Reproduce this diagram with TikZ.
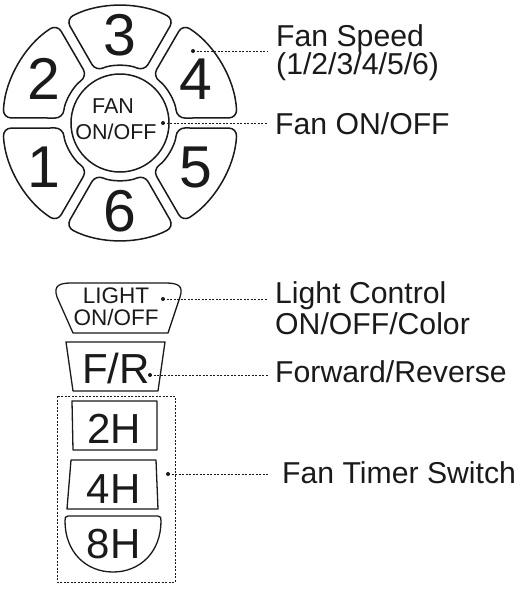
\documentclass[tikz,border=0pt]{standalone}
\usepackage{fontspec}
\setmainfont{Liberation Sans}
\definecolor{ink}{HTML}{1A1A1A}
\newcommand\fanseg[1]{\draw[segsty] ({#1-27.5}:117) arc[start angle={#1-27.5}, end angle={#1+27.5}, radius=117] -- ({#1+25}:57) arc[start angle={#1+25}, end angle={#1-25}, radius=57] -- cycle;}
\begin{document}
\begin{tikzpicture}[x=1pt,y=-1pt,
  segsty/.style={draw=ink, line width=1.5pt, rounded corners=8pt},
  btn/.style={draw=ink, line width=1.3pt, line join=round},
  leader/.style={draw=ink, line width=0.7pt, dash pattern=on 2pt off 1.5pt},
  dotn/.style={circle, fill=ink, inner sep=0pt, minimum size=4pt},
  digit/.style={font=\fontsize{59}{59}\selectfont, text=ink, inner sep=0pt},
  btxt/.style={font=\fontsize{42}{42}\selectfont, text=ink, inner sep=0pt, anchor=base},
  stxt/.style={font=\fontsize{22.5}{22.5}\selectfont, text=ink, inner sep=0pt, anchor=base},
  ctxt/.style={font=\fontsize{21.5}{21.5}\selectfont, text=ink, inner sep=0pt, anchor=base},
  lbl/.style={font=\fontsize{30.2}{30.2}\selectfont, text=ink, inner sep=0pt, anchor=base west}
]
\path[use as bounding box, fill=white] (0,0) rectangle (522,592);

% fan speed wheel
\begin{scope}[shift={(120,123)}]
  \fanseg{-90}
  \fanseg{-30}
  \fanseg{30}
  \fanseg{90}
  \fanseg{150}
  \fanseg{-150}
  \node[digit] (n3) at (-90:88) {3};
  \node[digit] (n4) at (-30:88) {4};
  \node[digit] (n5) at (30:88) {5};
  \node[digit] (n6) at (90:88) {6};
  \node[digit] (n1) at (150:88) {1};
  \node[digit] (n2) at (-150:88) {2};
  \draw[draw=ink, line width=1.5pt] (0,0) circle[radius=49];
\end{scope}
\node[ctxt] (fan1) at (113,113) {FAN};
\node[ctxt] (fan2) at (116,139) {ON/OFF};

% lower buttons
\draw[btn] (73,333) -- (57,297) .. controls (53,285) and (60,283) .. (72,283) -- (165,283) .. controls (177,283) and (184,285) .. (180,297) -- (168,333) -- cycle;
\node[stxt] (light1) at (116,303) {LIGHT};
\node[stxt] (light2) at (116,325) {ON/OFF};

\draw[btn] (66,342) -- (165,342) -- (158,391) -- (73,391) -- cycle;
\node[btxt] (fr) at (116,383) {F/R};

\draw[btn] (72,401) -- (157,401) -- (157,450) -- (73,450) -- cycle;
\node[btxt] (h2) at (114,443) {2H};

\draw[btn] (71,460) -- (156,460) -- (158,509) -- (67,509) -- cycle;
\node[btxt] (h4) at (113.5,503) {4H};

\draw[btn] (68,516) -- (158,516) .. controls (161,516) and (161,518) .. (161,521) .. controls (161,552) and (140,572) .. (113,572) .. controls (86,572) and (65,552) .. (65,521) .. controls (65,518) and (65,516) .. (68,516) -- cycle;
\node[btxt] (h8) at (113.5,558) {8H};

\draw[leader] (57,396) rectangle (175,582);

% labels
\node[lbl] (fs1) at (276,46) {Fan Speed};
\node[lbl] (fs2) at (276,74) {(1/2/3/4/5/6)};
\node[lbl] (fo) at (275,134) {Fan ON/OFF};
\node[lbl] (lc1) at (275,303) {Light Control};
\node[lbl] (lc2) at (275,334) {ON/OFF/Color};
\node[lbl] (fw) at (275,382) {Forward/Reverse};
\node[lbl] (ft) at (282,483) {Fan Timer Switch};

% dots and leaders
\node[dotn] (d1) at (193,51) {};
\node[dotn] (d2) at (163,123) {};
\node[dotn] (d3) at (163,299) {};
\node[dotn] (d4) at (150,375) {};
\node[dotn] (d5) at (168,474) {};
\coordinate (e1) at (268,51);
\coordinate (e2) at (268,123);
\coordinate (e3) at (268,299);
\coordinate (e4) at (268,375);
\coordinate (e5) at (268,474);
\draw[leader] (d1.center) -- (e1);
\draw[leader] (d2.center) -- (e2);
\draw[leader] (d3.center) -- (e3);
\draw[leader] (d4.center) -- (e4);
\draw[leader] (d5.center) -- (e5);
\end{tikzpicture}
\end{document}
